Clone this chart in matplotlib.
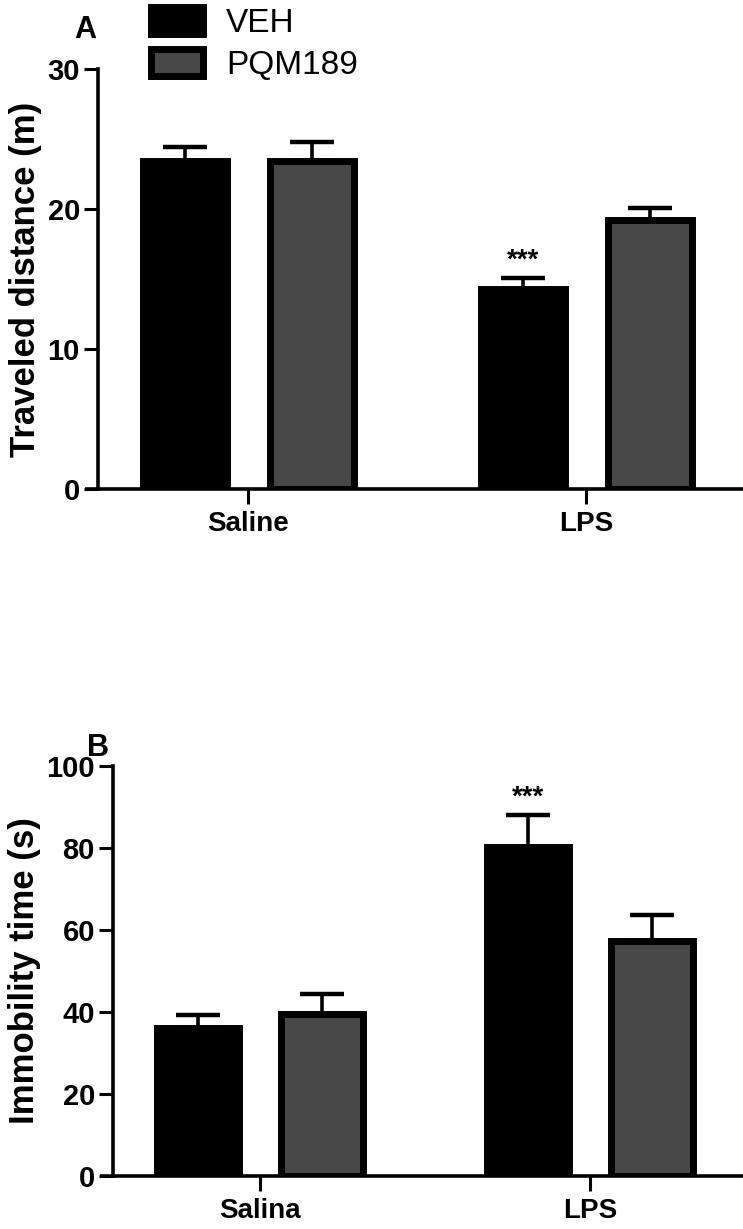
import matplotlib
matplotlib.use("Agg")
import matplotlib.pyplot as plt
import numpy as np

plt.rcParams['font.family'] = ['Liberation Sans', 'DejaVu Sans']

series = ["VEH", "PQM189"]
colors = ["#000000", "#474747"]

# Panel A
cats_a = ["Saline", "LPS"]
dist_mean = {"VEH": [23.4, 14.3], "PQM189": [23.4, 19.2]}
dist_err = {"VEH": [1.0, 0.8], "PQM189": [1.4, 0.9]}

# Panel B
cats_b = ["Salina", "LPS"]
imm_mean = {"VEH": [36.0, 80.2], "PQM189": [39.5, 57.4]}
imm_err = {"VEH": [3.3, 7.9], "PQM189": [4.8, 6.3]}

yticks_a = [0, 10, 20, 30]
yticks_b = [0, 20, 40, 60, 80, 100]

W, H = 743, 1229
fig = plt.figure(figsize=(W / 100, H / 100), dpi=100)

def px_axes(left, right, top, bottom):
    return fig.add_axes([left / W, 1 - bottom / H, (right - left) / W, (bottom - top) / H])

ax_a = px_axes(98, 742, 69, 489)
ax_b = px_axes(113, 742, 766, 1176)

width = 0.25
offset = 0.188

def draw(ax, cats, means, errs, ylim, yticks, ylabel, star_idx):
    x = np.arange(len(cats))
    bars = []
    for i, s in enumerate(series):
        xs = x + (i - 0.5) * 2 * offset
        b = ax.bar(xs, means[s], width=width, color=colors[i], edgecolor="black",
                   linewidth=5, zorder=2, label=s)
        bars.append(b)
        ax.errorbar(xs, means[s], yerr=[np.zeros(len(cats)), errs[s]], fmt="none",
                    ecolor="black", elinewidth=2.6, capsize=16, capthick=3.2, zorder=1)
    xs0 = x[star_idx] - offset
    ytop = means["VEH"][star_idx] + errs["VEH"][star_idx]
    ax.annotate("***", (xs0, ytop), xytext=(0, 3), textcoords="offset points",
                ha="center", va="bottom", fontsize=20, fontweight="bold")
    ax.set_xlim(-0.445, 1.46)
    ax.set_ylim(*ylim)
    ax.set_yticks(yticks)
    ax.set_xticks(x)
    ax.set_xticklabels(cats)
    for sp in ["top", "right"]:
        ax.spines[sp].set_visible(False)
    for sp in ["left", "bottom"]:
        ax.spines[sp].set_linewidth(2.6)
    ax.tick_params(axis="y", length=10, width=2.2, labelsize=21, pad=3)
    ax.tick_params(axis="x", length=11, width=2.2, labelsize=20, pad=5)
    for lab in ax.get_xticklabels() + ax.get_yticklabels():
        lab.set_fontweight("bold")
    ax.set_ylabel(ylabel, fontsize=25, fontweight="bold", labelpad=4)
    ax.plot([-0.02, 0], [0, 0], transform=ax.transAxes, color="black", lw=2.6,
            clip_on=False, solid_capstyle="butt")
    return bars

bars_a = draw(ax_a, cats_a, dist_mean, dist_err, (0, 30), yticks_a,
              "Traveled distance (m)", 1)
bars_b = draw(ax_b, cats_b, imm_mean, imm_err, (0, 100), yticks_b,
              "Immobility time (s)", 1)

fig.text(85 / W, 1 - 30 / H, "A", ha="center", va="center", fontsize=22, fontweight="bold")
fig.text(98 / W, 1 - 748 / H, "B", ha="center", va="center", fontsize=22, fontweight="bold")

leg = ax_a.legend(handles=bars_a, labels=series, loc="upper left",
                  bbox_to_anchor=(148 / W, 1 - 4 / H), bbox_transform=fig.transFigure,
                  frameon=False, fontsize=24, handlelength=1.55, handleheight=0.85,
                  handletextpad=0.7, labelspacing=0.3, borderpad=0.1, borderaxespad=0)

fig.savefig("out.png", dpi=100)
